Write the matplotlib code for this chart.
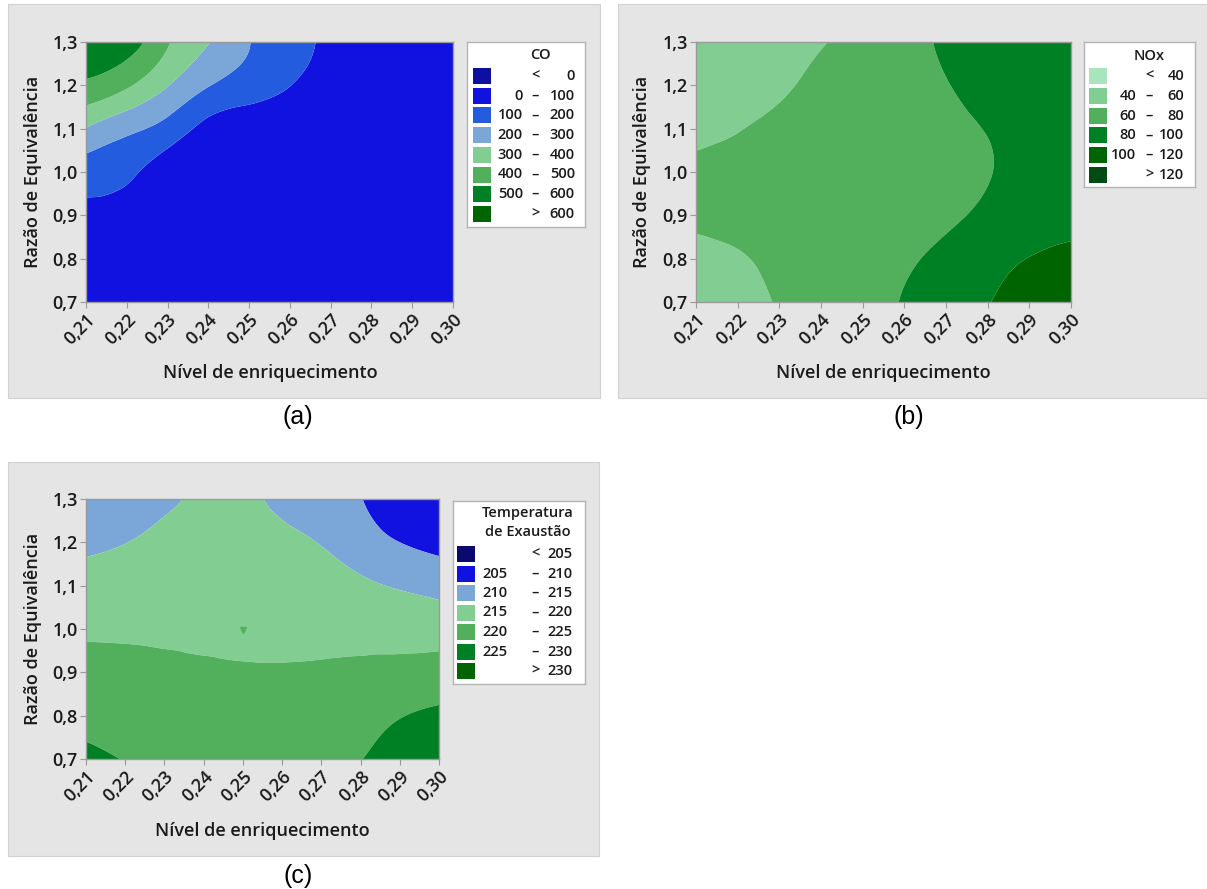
import numpy as np
import matplotlib
matplotlib.use('Agg')
import matplotlib.pyplot as plt
import matplotlib.tri as mtri
from matplotlib.patches import Rectangle

W, H = 1207, 889
FONTE = ['Open Sans', 'DejaVu Sans']
PESO = 'semibold'
COR_TEXTO = '#1a1a1a'
COR_EIXO = '#9a9a9a'

# Eixos comuns aos três gráficos
enriquecimento = [0.21, 0.22, 0.23, 0.24, 0.25, 0.26, 0.27, 0.28, 0.29, 0.30]
razao = [0.7, 0.8, 0.9, 1.0, 1.1, 1.2, 1.3]
x_rotulos = ['0,21', '0,22', '0,23', '0,24', '0,25', '0,26', '0,27', '0,28', '0,29', '0,30']
y_rotulos = ['0,7', '0,8', '0,9', '1,0', '1,1', '1,2', '1,3']

# (a) CO - uma linha por razão de equivalência (0,7 -> 1,3)
co = [
    [25, 22, 18, 14, 12, 10, 8, 6, 5, 4],
    [45, 38, 28, 18, 14, 12, 10, 8, 6, 5],
    [76, 63, 40, 25, 18, 14, 12, 10, 8, 6],
    [150, 120, 55, 40, 25, 20, 15, 12, 10, 8],
    [295, 225, 160, 70, 45, 35, 25, 20, 15, 10],
    [480, 415, 305, 205, 150, 102, 60, 40, 25, 15],
    [560, 545, 410, 305, 203, 140, 80, 50, 30, 20],
]
co_niveis = [0, 100, 200, 300, 400, 500, 600]
co_cores = ['#0e0ea0', '#1212e0', '#245ce0', '#7aa6d8', '#82ce92', '#52b05c', '#008024', '#006400']

# (b) NOx
nox = [
    [50, 55, 61, 67, 74, 81, 89, 99, 110, 118],
    [55, 58.5, 64, 69, 74, 78, 84, 92, 100.5, 104],
    [64, 66, 68, 70, 72, 74.5, 77.5, 83, 89, 95],
    [66, 67, 68, 69.5, 71, 73, 76, 79.5, 84, 89],
    [52, 59, 64, 68, 71, 73.5, 77, 80.5, 85, 90],
    [45, 51, 57.5, 64, 70, 75, 79.5, 84, 88, 92],
    [41, 48, 54, 59, 67, 75, 82, 87, 91, 95],
]
nox_niveis = [40, 60, 80, 100, 120]
nox_cores = ['#a8e4bc', '#82ce92', '#52b05c', '#008024', '#006400', '#004b14']

# (c) Temperatura de exaustão
temp = [
    [226.5, 224.8, 223.5, 222.8, 222.5, 222.6, 223.3, 224.9, 226.5, 228],
    [223.5, 223, 222.5, 222, 221.8, 221.8, 222.2, 223.3, 224.8, 225.8],
    [222, 222.2, 221.7, 221.1, 220.7, 220.6, 220.8, 221, 221.2, 222],
    [219, 218.8, 218.6, 218.5, 218.4, 218.4, 218.5, 218.6, 218.6, 218],
    [216.5, 217.3, 218, 218.6, 218.8, 218.5, 217.6, 216, 214.5, 213.3],
    [214, 214.9, 216.5, 217.5, 217.5, 216.5, 214.7, 212, 210, 208.8],
    [211, 212.5, 214, 216, 216, 213.8, 212, 210.1, 208.5, 207],
]
temp_niveis = [205, 210, 215, 220, 225, 230]
temp_cores = ['#0a0a6e', '#1212e0', '#7aa6d8', '#82ce92', '#52b05c', '#008024', '#006400']
# pequena marca no ponto central do gráfico (c)
temp_ponto_central = (0.25, 0.997)


def caixa(x0, y0, x1, y1):
    return [x0 / W, 1 - y1 / H, (x1 - x0) / W, (y1 - y0) / H]


def malha_suave(Z):
    # triangulação no espaço dos índices, refinada pelo matplotlib
    nx, ny = len(enriquecimento), len(razao)
    ii, jj = np.meshgrid(np.arange(nx), np.arange(ny))
    tris = []
    for j in range(ny - 1):
        for i in range(nx - 1):
            k = j * nx + i
            tris.append([k, k + 1, k + nx + 1])
            tris.append([k, k + nx + 1, k + nx])
    tri = mtri.Triangulation(ii.ravel().astype(float), jj.ravel().astype(float), tris)
    z = np.array(Z, dtype=float).ravel()
    interp = mtri.CubicTriInterpolator(tri, z, kind='min_E')
    tri_f, z_f = mtri.UniformTriRefiner(tri).refine_field(z, interp, subdiv=4)
    xs = np.interp(tri_f.x, np.arange(nx), enriquecimento)
    ys = np.interp(tri_f.y, np.arange(ny), razao)
    return mtri.Triangulation(xs, ys, tri_f.triangles), z_f


def desenha_contorno(fig, pos, Z, niveis, cores):
    ax = fig.add_axes(caixa(*pos))
    tri, z = malha_suave(Z)
    lv = [-1e6] + niveis + [1e6]
    ax.tricontourf(tri, z, levels=lv, colors=cores, antialiased=True)
    ax.set_xlim(0.21, 0.30)
    ax.set_ylim(0.7, 1.3)
    ax.set_xticks(enriquecimento)
    ax.set_xticklabels(x_rotulos, rotation=45, ha='right', rotation_mode='anchor',
                       family=FONTE, fontsize=13, color=COR_TEXTO, weight=PESO)
    ax.set_yticks(razao)
    ax.set_yticklabels(y_rotulos, family=FONTE, fontsize=13, color=COR_TEXTO, weight=PESO)
    ax.tick_params(direction='out', length=4, width=0.8, color=COR_EIXO, pad=2)
    for s in ax.spines.values():
        s.set_color(COR_EIXO)
        s.set_linewidth(1.0)
    return ax


def desenha_legenda(fig, pos, titulo, niveis, cores, cols, y0, passo, titulo_y, estilo='a'):
    x0, yy0, x1, yy1 = pos
    lw_, lh_ = x1 - x0, yy1 - yy0
    ax = fig.add_axes(caixa(*pos))
    ax.set_xlim(0, lw_)
    ax.set_ylim(lh_, 0)
    ax.set_xticks([])
    ax.set_yticks([])
    ax.set_facecolor('white')
    for s in ax.spines.values():
        s.set_color('#b4b4b4')
        s.set_linewidth(1.0)
    for i, t in enumerate(titulo):
        ax.text(cols['tit'], titulo_y[i], t, ha='center', va='center', family=FONTE,
                fontsize=10.5, color=COR_TEXTO, weight=PESO)
    n = len(cores)
    kw = dict(va='center', family=FONTE, fontsize=10.5, color=COR_TEXTO, weight=PESO)
    for i in range(n):
        yc = y0 + i * passo
        ax.add_patch(Rectangle((cols['sw0'], yc - 8), cols['sw1'] - cols['sw0'], 16,
                               facecolor=cores[i], edgecolor='none'))
        if i == 0:
            ax.text(cols['dash'], yc, '<', ha='center', **kw)
            ax.text(cols['hi'], yc, str(niveis[0]), ha='right', **kw)
        elif i == n - 1:
            ax.text(cols['dash'], yc, '>', ha='center', **kw)
            ax.text(cols['hi'], yc, str(niveis[-1]), ha='right', **kw)
        else:
            if estilo == 'c':
                ax.text(cols['lo'], yc, str(niveis[i - 1]), ha='left', **kw)
            else:
                ax.text(cols['lo'], yc, str(niveis[i - 1]), ha='right', **kw)
            ax.text(cols['dash'], yc, '–', ha='center', **kw)
            ax.text(cols['hi'], yc, str(niveis[i]), ha='right', **kw)


def rotulos_eixos(fig, xy_y, xy_x):
    fig.text(xy_y[0] / W, 1 - xy_y[1] / H, 'Razão de Equivalência', rotation=90,
             ha='center', va='center', family=FONTE, fontsize=13, color=COR_TEXTO, weight=PESO)
    fig.text(xy_x[0] / W, 1 - xy_x[1] / H, 'Nível de enriquecimento',
             ha='center', va='center', family=FONTE, fontsize=13, color=COR_TEXTO, weight=PESO)


def letra(fig, x, y, t):
    fig.text(x / W, 1 - y / H, t, ha='center', va='center',
             family=['Liberation Sans', 'DejaVu Sans'], fontsize=18, color='black')


fig = plt.figure(figsize=(W / 100, H / 100), dpi=100, facecolor='white')

# fundos cinzentos dos painéis
for (a, b, c, d) in [(8, 4, 600, 398), (618, 4, 1210, 398), (8, 462, 599, 856)]:
    fig.add_artist(Rectangle((a / W, 1 - d / H), (c - a) / W, (d - b) / H,
                             transform=fig.transFigure, facecolor='#e5e5e5',
                             edgecolor='#d0d0d0', linewidth=0.8, zorder=0))

# (a)
desenha_contorno(fig, (86, 42, 453, 302), co, co_niveis, co_cores)
desenha_legenda(fig, (467, 42, 585, 227), ['CO'], co_niveis, co_cores,
                dict(tit=73, sw0=6, sw1=24, lo=56, dash=68, hi=108), 34, 19.7, [13])
rotulos_eixos(fig, (33, 172), (270, 373))
letra(fig, 298, 417, '(a)')

# (b)
desenha_contorno(fig, (696, 42, 1071, 302), nox, nox_niveis, nox_cores)
desenha_legenda(fig, (1084, 42, 1195, 187), ['NOx'], nox_niveis, nox_cores,
                dict(tit=65, sw0=5, sw1=23, lo=52, dash=65, hi=100), 34, 19.8, [14])
rotulos_eixos(fig, (642, 172), (883, 373))
letra(fig, 909, 417, '(b)')

# (c)
ax_c = desenha_contorno(fig, (86, 499, 439, 759), temp, temp_niveis, temp_cores)
ax_c.plot([temp_ponto_central[0]], [temp_ponto_central[1]], marker='v', markersize=4,
          color=temp_cores[4], linestyle='none')
desenha_legenda(fig, (453, 501, 585, 684), ['Temperatura', 'de Exaustão'], temp_niveis, temp_cores,
                dict(tit=75, sw0=4, sw1=22, lo=29, dash=82, hi=120), 53, 19.5, [12, 31], estilo='c')
rotulos_eixos(fig, (33, 629), (262, 831))
letra(fig, 298, 876, '(c)')

fig.savefig('out.png', dpi=100, facecolor='white')
